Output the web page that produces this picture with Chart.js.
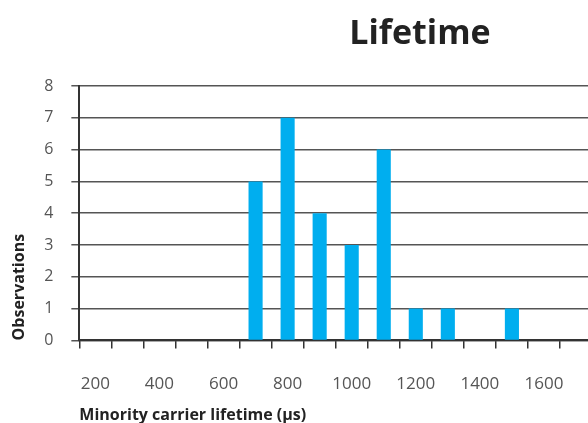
<!DOCTYPE html>
<html><head><meta charset="utf-8">
<script src="https://cdn.jsdelivr.net/npm/chart.js@4/dist/chart.umd.min.js"></script>
<style>
html,body{margin:0;padding:0;background:#fff;overflow:hidden;width:588px;height:423px;}
#wrap{position:absolute;left:0;top:0;width:602px;height:423px;}
#title{position:absolute;left:0;top:8px;width:840px;text-align:center;font:bold 34px "Open Sans",sans-serif;color:#222;z-index:2;}
</style></head>
<body>
<div id="wrap"><canvas id="c"></canvas></div>
<div id="title">Lifetime</div>
<script>
const categories = [200,300,400,500,600,700,800,900,1000,1100,1200,1300,1400,1500,1600,1700];
const observations = [0,0,0,0,0,5,7,4,3,6,1,1,0,1,0,0];
const yTicks = [0,1,2,3,4,5,6,7,8];
const xTitle = 'Minority carrier lifetime (µs)';
const yTitle = 'Observations';

new Chart(document.getElementById('c'), {
  type: 'bar',
  data: {
    labels: categories.map(String),
    datasets: [{ data: observations, backgroundColor: '#00AEEF', barPercentage: 0.44, categoryPercentage: 1 }]
  },
  options: {
    responsive: true, maintainAspectRatio: false, animation: false,
    layout: { padding: { top: 86, right: 0, left: 6, bottom: 0 } },
    plugins: { legend: { display: false }, tooltip: { enabled: false } },
    scales: {
      x: {
        grid: { drawOnChartArea: false, drawTicks: true, tickLength: 8, color: '#333', lineWidth: 1.5, offset: true },
        border: { display: true, color: '#333', width: 2 },
        ticks: {
          padding: 26, color: '#555', font: { family: 'Open Sans', size: 17 }, autoSkip: false, maxRotation: 0,
          callback: function(v, i) { const c = categories[i]; return (c % 200 === 0 && c <= 1600) ? String(c) : ''; }
        },
        title: { display: true, text: xTitle, align: 'start', color: '#222', font: { family: 'Open Sans', size: 16, weight: 'bold' }, padding: { top: -15, bottom: -2 } }
      },
      y: {
        min: 0, max: 8,
        afterBuildTicks: function(ax) { ax.ticks = yTicks.map(v => ({ value: v })); },
        grid: { color: '#555', lineWidth: 1.5, tickLength: 8 },
        border: { display: true, color: '#333', width: 2 },
        ticks: { padding: 18, color: '#555', font: { family: 'Open Sans', size: 16 } },
        title: { display: true, text: yTitle, align: 'start', color: '#222', font: { family: 'Open Sans', size: 16, weight: 'bold' }, padding: { top: 4, bottom: -3 } }
      }
    }
  }
});
</script>
</body></html>
